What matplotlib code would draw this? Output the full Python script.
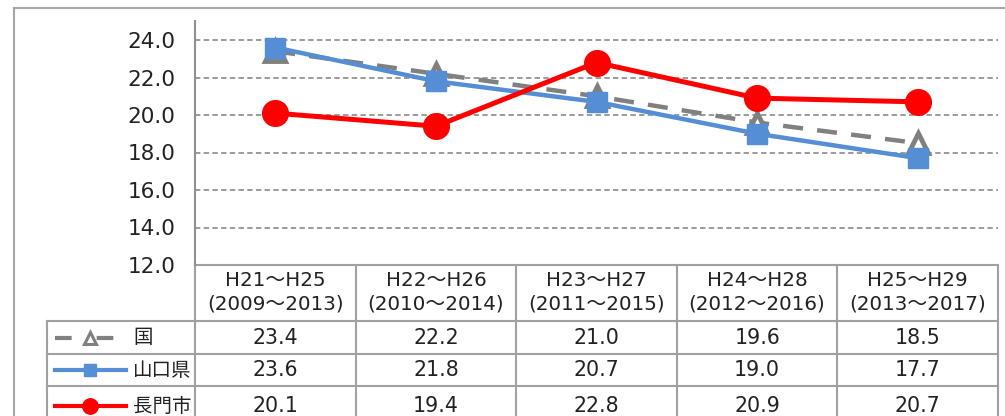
import matplotlib
matplotlib.use("Agg")
import matplotlib.pyplot as plt
from matplotlib.lines import Line2D

plt.rcParams['font.family'] = ['DejaVu Sans', 'Noto Sans CJK JP']

# data
periods = ["H21～H25\n(2009～2013)", "H22～H26\n(2010～2014)", "H23～H27\n(2011～2015)",
           "H24～H28\n(2012～2016)", "H25～H29\n(2013～2017)"]
names = ["国", "山口県", "長門市"]
kuni = [23.4, 22.2, 21.0, 19.6, 18.5]
yamaguchi = [23.6, 21.8, 20.7, 19.0, 17.7]
nagato = [20.1, 19.4, 22.8, 20.9, 20.7]
yticks = [12.0, 14.0, 16.0, 18.0, 20.0, 22.0, 24.0]

W, H = 1005, 416
fig = plt.figure(figsize=(W / 100, H / 100), dpi=100)

# overlay in pixel coords for frame + data table
tab = fig.add_axes([0, 0, 1, 1])
tab.set_xlim(0, W)
tab.set_ylim(H, 0)
tab.axis('off')

# plot area box (pixels)
x0, x1 = 195, 998
y_top, y_bot = 21.25, 265
ax = fig.add_axes([x0 / W, 1 - y_bot / H, (x1 - x0) / W, (y_bot - y_top) / H])

grid_c = '#808080'
series = [
    (kuni, dict(color='#808080', lw=3.2, dashes=(4.5, 3.2), marker='^', ms=15,
                mfc='white', mec='#808080', mew=3.5)),
    (yamaguchi, dict(color='#558ED5', lw=3.2, marker='s', ms=14, mfc='#558ED5', mec='#558ED5')),
    (nagato, dict(color='#FF0000', lw=3.6, marker='o', ms=18.5, mfc='#FF0000', mec='#FF0000')),
]
xs = range(len(periods))
for i, (vals, st) in enumerate(series):
    ax.plot(xs, vals, zorder=3 + i, clip_on=False, **st)

ax.set_xlim(-0.5, len(periods) - 0.5)
ax.set_ylim(12, 25)
ax.set_yticks(yticks)
ax.set_yticklabels([f"{v:.1f}" for v in yticks], fontsize=15.5, color='#222222')
ax.set_xticks([])
ax.tick_params(axis='y', length=0, pad=14)
for y in yticks[1:]:
    ax.axhline(y, color=grid_c, lw=1.1, dashes=(3.5, 2.2), zorder=1)
for s in ['top', 'right', 'bottom']:
    ax.spines[s].set_visible(False)
ax.spines['left'].set_color('#909090')
ax.spines['left'].set_linewidth(1.5)
ax.patch.set_alpha(0)

# outer chart frame
frame_c = '#a6a6a6'
tab.plot([14, 14], [H + 5, 8], color=frame_c, lw=1.5)
tab.plot([14, W + 5], [8, 8], color=frame_c, lw=1.5)

# data table
tc = '#a0a0a0'
tlw = 1.5
col_w = (x1 - x0) / len(periods)
cols = [x0 + k * col_w for k in range(len(periods) + 1)]
row_y = [265, 321, 354, 386, H + 10]
left = 47
for cx in cols:
    tab.plot([cx, cx], [265, H + 10], color=tc, lw=tlw)
tab.plot([left, left], [321, H + 10], color=tc, lw=tlw)
tab.plot([x0, x1], [265, 265], color=tc, lw=tlw)
for ry in row_y[1:4]:
    tab.plot([left, x1], [ry, ry], color=tc, lw=tlw)

for k, lab in enumerate(periods):
    cx = (cols[k] + cols[k + 1]) / 2
    l1, l2 = lab.split("\n")
    tab.text(cx, 281, l1, ha='center', va='center', fontsize=14.3, color='#222222')
    tab.text(cx, 304, l2, ha='center', va='center', fontsize=14.3, color='#222222')

for r, (vals, st) in enumerate(series):
    cy = (row_y[r + 1] + row_y[r + 2]) / 2
    for k, v in enumerate(vals):
        cx = (cols[k] + cols[k + 1]) / 2
        tab.text(cx, cy, f"{v:.1f}", ha='center', va='center', fontsize=14.8, color='#222222')
    tab.text(133, cy, names[r], ha='left', va='center', fontsize=14, color='#222222')
    key = dict(st)
    key['ms'] = st['ms'] * 0.6
    key['lw'] = 3
    if 'dashes' in key:
        tab.add_line(Line2D([55, 117], [cy, cy], color=st['color'], lw=3, dashes=(4, 6)))
        tab.plot([90], [cy], marker='^', ms=key['ms'], mfc='white', mec=st['mec'], mew=2.2, ls='none')
    else:
        tab.plot([55, 126], [cy, cy], color=st['color'], lw=3)
        tab.plot([90], [cy], marker=st['marker'], ms=key['ms'], color=st['color'], ls='none')

fig.savefig("out.png", dpi=100)
